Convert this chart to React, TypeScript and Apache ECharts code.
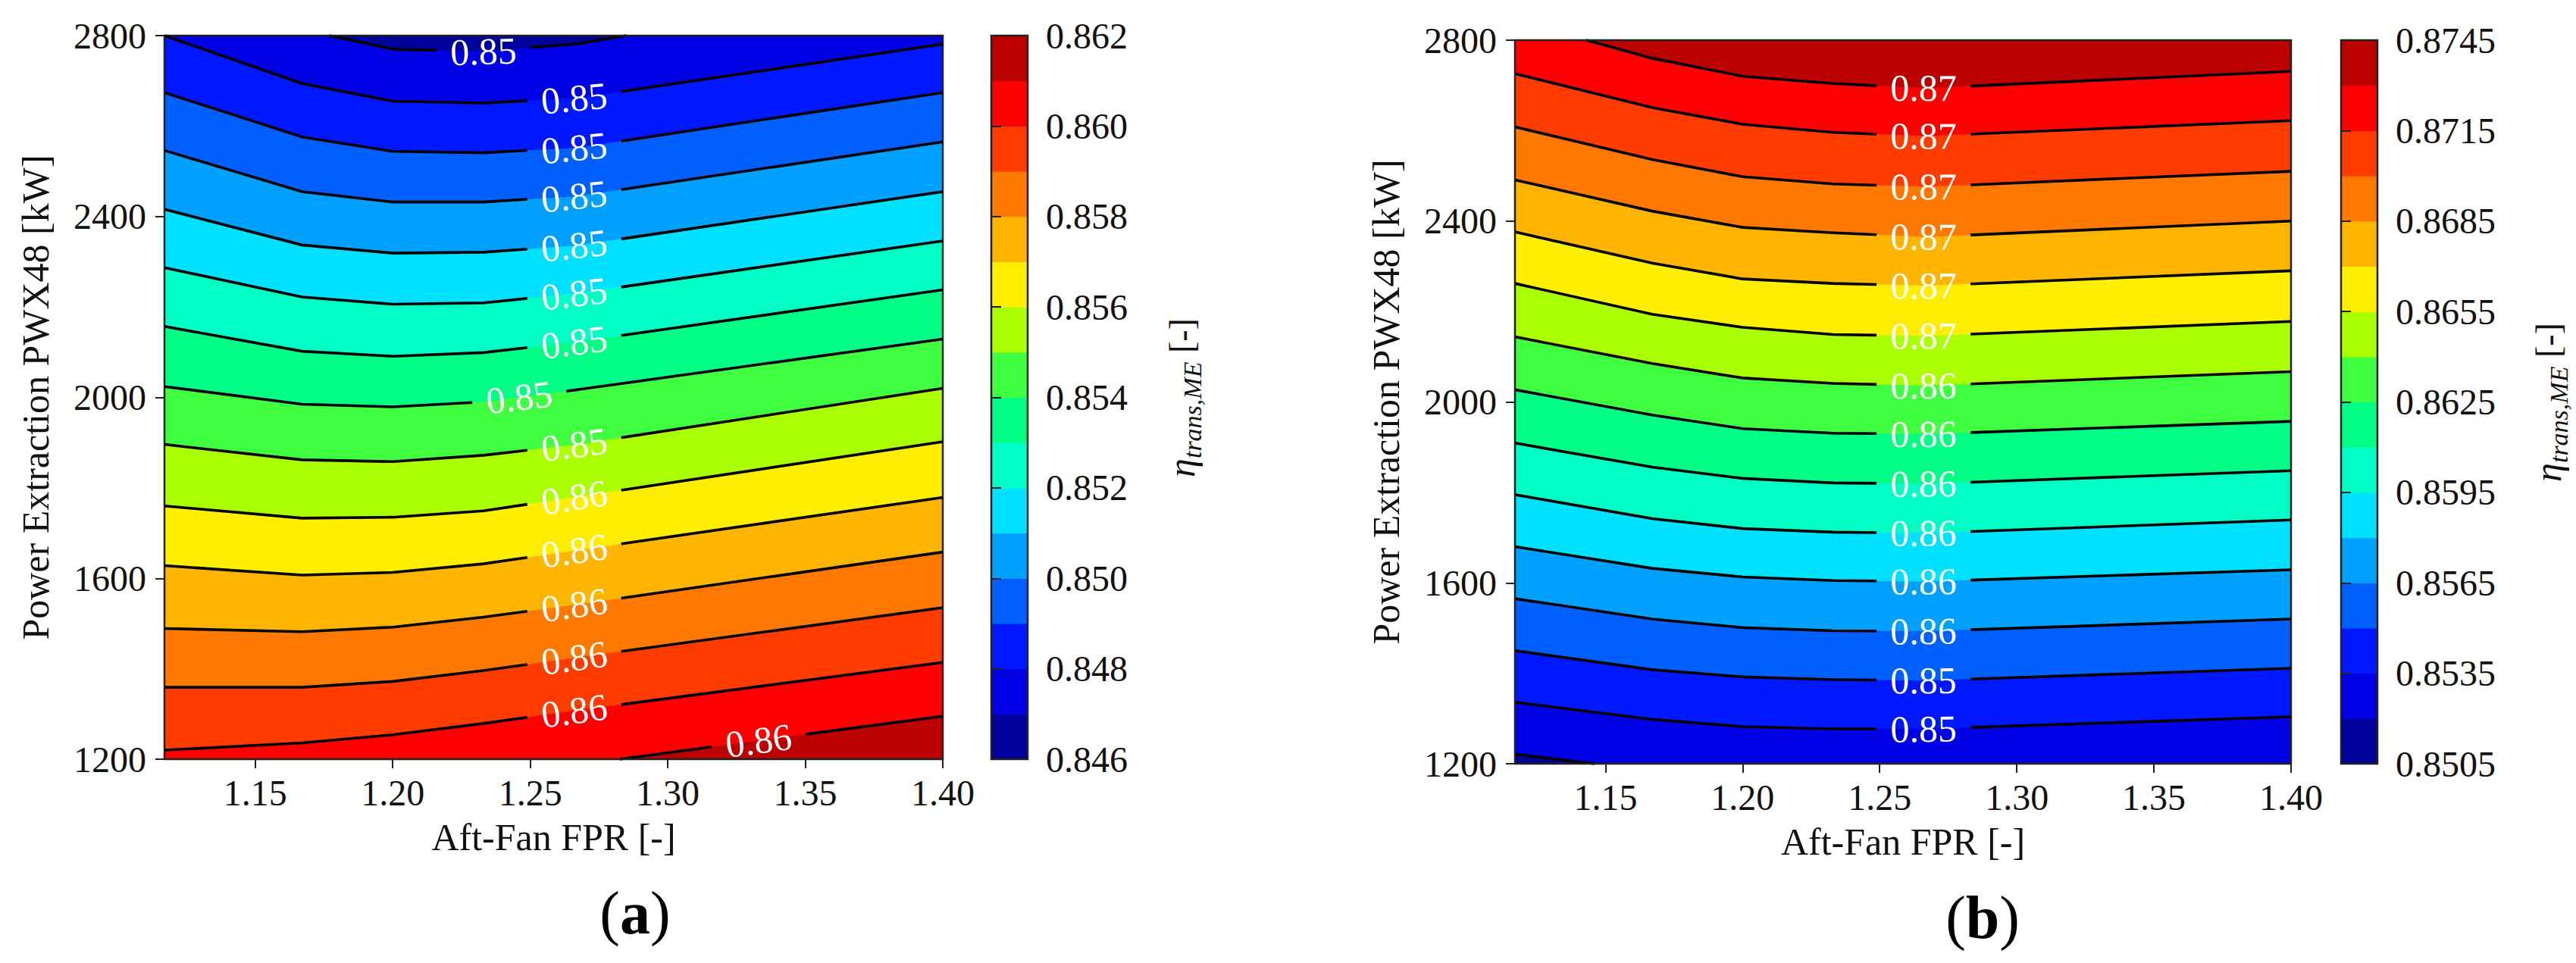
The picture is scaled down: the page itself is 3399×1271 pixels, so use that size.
import React, { useEffect, useRef } from "react";
import * as echarts from "echarts";

type Pt = [number, number];

// ---------- shared data ----------
const BAND_COLORS = [
  "#00009a", "#0000e4", "#0018ff", "#0060ff", "#00a0ff", "#00e0ff", "#00ffc4", "#00ff84",
  "#40ff40", "#aaff00", "#ffee00", "#ffb400", "#ff7800", "#ff3c00", "#ff0000", "#bb0000",
];
const X_GRID = [1.117, 1.167, 1.2, 1.233, 1.267, 1.4];
const X_TICKS = [1.15, 1.2, 1.25, 1.3, 1.35, 1.4];
const X_MIN = 1.117;
const X_MAX = 1.4;
const Y_MIN = 1200;
const Y_MAX = 2800;
const Y_STEP = 400;

const onGrid = (ys: number[]): Pt[] => X_GRID.map((x, i) => [x, ys[i]] as Pt);

// ---------- panel (a) ----------
const A_LEVELS = [0.846, 0.847, 0.848, 0.849, 0.85, 0.851, 0.852, 0.853, 0.854, 0.855, 0.856, 0.857, 0.858, 0.859, 0.86, 0.861, 0.862];
const A_CB_TICKS = ["0.846", "0.848", "0.850", "0.852", "0.854", "0.856", "0.858", "0.860", "0.862"];
// contour lines listed top -> bottom
const A_LINE_LEVELS = [0.847, 0.848, 0.849, 0.85, 0.851, 0.852, 0.853, 0.854, 0.855, 0.856, 0.857, 0.858, 0.859, 0.86, 0.861];
const A_LABELS = ["0.85", "0.85", "0.85", "0.85", "0.85", "0.85", "0.85", "0.85", "0.85", "0.86", "0.86", "0.86", "0.86", "0.86", "0.86"];
const A_LABEL_X = [1.233, 1.266, 1.266, 1.266, 1.266, 1.266, 1.266, 1.246, 1.266, 1.266, 1.266, 1.266, 1.266, 1.266, 1.333];
const A_LINES: Pt[][] = [
  [[1.117, 2800], [1.177, 2800], [1.2, 2770], [1.233, 2765], [1.267, 2782], [1.285, 2800], [1.4, 2800]],
  onGrid([2800, 2694, 2655, 2651, 2662, 2781]),
  onGrid([2674, 2576, 2544, 2541, 2552, 2674]),
  onGrid([2546, 2455, 2432, 2432, 2445, 2565]),
  onGrid([2416, 2337, 2319, 2321, 2336, 2455]),
  onGrid([2287, 2222, 2206, 2209, 2230, 2346]),
  onGrid([2157, 2102, 2091, 2099, 2123, 2238]),
  onGrid([2024, 1985, 1979, 1990, 2017, 2129]),
  onGrid([1896, 1862, 1858, 1872, 1896, 2020]),
  onGrid([1760, 1733, 1735, 1749, 1780, 1902]),
  onGrid([1628, 1607, 1613, 1632, 1662, 1779]),
  onGrid([1489, 1482, 1492, 1514, 1542, 1658]),
  onGrid([1359, 1359, 1372, 1396, 1425, 1535]),
  onGrid([1220, 1236, 1254, 1279, 1308, 1414]),
  [[1.2825, 1200], [1.35, 1255], [1.4, 1295]],
];

// ---------- panel (b) ----------
const B_LEVELS = [0.8505, 0.852, 0.8535, 0.855, 0.8565, 0.858, 0.8595, 0.861, 0.8625, 0.864, 0.8655, 0.867, 0.8685, 0.87, 0.8715, 0.873, 0.8745];
const B_CB_TICKS = ["0.8505", "0.8535", "0.8565", "0.8595", "0.8625", "0.8655", "0.8685", "0.8715", "0.8745"];
// contour lines listed top -> bottom
const B_LINE_LEVELS = [0.873, 0.8715, 0.87, 0.8685, 0.867, 0.8655, 0.864, 0.8625, 0.861, 0.8595, 0.858, 0.8565, 0.855, 0.8535, 0.852];
const B_LABELS = ["0.87", "0.87", "0.87", "0.87", "0.87", "0.87", "0.86", "0.86", "0.86", "0.86", "0.86", "0.86", "0.85", "0.85", ""];
const B_LABEL_X = [1.266, 1.266, 1.266, 1.266, 1.266, 1.266, 1.266, 1.266, 1.266, 1.266, 1.266, 1.266, 1.266, 1.266, 1.266];
const B_LINES: Pt[][] = [
  [[1.117, 2800], [1.143, 2800], [1.167, 2760], [1.2, 2720], [1.233, 2704], [1.267, 2694], [1.4, 2731]],
  onGrid([2726, 2651, 2614, 2596, 2588, 2622]),
  onGrid([2608, 2536, 2498, 2482, 2476, 2510]),
  onGrid([2491, 2422, 2386, 2374, 2365, 2400]),
  onGrid([2376, 2307, 2272, 2262, 2257, 2290]),
  onGrid([2262, 2194, 2165, 2149, 2146, 2178]),
  onGrid([2144, 2085, 2053, 2041, 2036, 2067]),
  onGrid([2027, 1971, 1941, 1931, 1929, 1957]),
  onGrid([1909, 1856, 1831, 1821, 1819, 1848]),
  onGrid([1795, 1742, 1720, 1712, 1710, 1739]),
  onGrid([1680, 1632, 1613, 1605, 1603, 1629]),
  onGrid([1565, 1520, 1501, 1494, 1493, 1520]),
  onGrid([1450, 1408, 1392, 1386, 1384, 1411]),
  onGrid([1336, 1298, 1282, 1277, 1277, 1304]),
  [[1.117, 1221], [1.146, 1200]],
];

// ---------- styling ----------
const SERIF = "Liberation Serif";
const INK = "#111";
const SPINE = "#222";
const GAP = 62;

const GRID_A = { left: 217, top: 47, width: 1027, height: 955 };
const CB_A = { left: 1308, top: 47, width: 48, height: 955 };
const GRID_B = { left: 1999, top: 53, width: 1024, height: 955 };
const CB_B = { left: 3089, top: 53, width: 48, height: 955 };

function lerpY(pts: number[][], x: number): number {
  if (x <= pts[0][0]) return pts[0][1];
  for (let j = 1; j < pts.length; j++) {
    const a = pts[j - 1], b = pts[j];
    if (x <= b[0]) {
      const t = (x - a[0]) / (b[0] - a[0] || 1);
      return a[1] + t * (b[1] - a[1]);
    }
  }
  return pts[pts.length - 1][1];
}
function lerpAt(a: number[], b: number[], x: number): number[] {
  const t = (x - a[0]) / (b[0] - a[0] || 1);
  return [x, a[1] + t * (b[1] - a[1])];
}
function cutRun(r: number[][], x0: number, x1: number): number[][][] {
  const left: number[][] = [], right: number[][] = [];
  for (let j = 0; j < r.length; j++) {
    const p = r[j];
    if (j > 0) {
      const a = r[j - 1];
      if (a[0] < x0 && p[0] > x0) left.push(lerpAt(a, p, x0));
      if (a[0] < x1 && p[0] > x1) right.push(lerpAt(a, p, x1));
    }
    if (p[0] <= x0) left.push(p);
    if (p[0] >= x1) right.push(p);
  }
  return [left, right].filter((s) => s.length > 1);
}

function panelSeries(gi: number, lines: Pt[][], lineLevels: number[], levels: number[], labels: string[], labelX: number[], higherBelow: boolean) {
  const series: any[] = [];
  lines.forEach((pts, i) => {
    let k = 0;
    let best = Infinity;
    levels.forEach((lv, j) => {
      const d = Math.abs(lv - lineLevels[i]);
      if (d < best) { best = d; k = j; }
    });
    const band = higherBelow ? k : k - 1;
    series.push({
      type: "line",
      xAxisIndex: gi,
      yAxisIndex: gi,
      data: pts,
      symbol: "none",
      silent: true,
      clip: true,
      z: 2,
      lineStyle: { width: 0, opacity: 0 },
      areaStyle: { color: BAND_COLORS[band], opacity: 1, origin: "start" },
    });
  });
  series.push({
    type: "custom",
    xAxisIndex: gi,
    yAxisIndex: gi,
    silent: true,
    clip: false,
    z: 6,
    data: lines.map((_, i) => [labelX[i], lineLevels[i]]),
    renderItem: (params: any, api: any) => {
      const i = params.dataIndex;
      const pts = lines[i];
      const P = pts.map((p) => api.coord(p));
      let runs: number[][][] = [];
      let cur: number[][] = [P[0]];
      for (let j = 1; j < pts.length; j++) {
        const onB = pts[j - 1][1] === pts[j][1] && (pts[j][1] === Y_MIN || pts[j][1] === Y_MAX);
        if (onB) {
          if (cur.length > 1) runs.push(cur);
          cur = [P[j]];
        } else cur.push(P[j]);
      }
      if (cur.length > 1) runs.push(cur);
      const children: any[] = [];
      const lbl = labels[i];
      let textEl: any = null;
      if (lbl) {
        const xl = labelX[i];
        const c = api.coord([xl, lerpY(pts, xl)]);
        const x0 = c[0] - GAP, x1 = c[0] + GAP;
        const y0 = lerpY(P, x0), y1 = lerpY(P, x1);
        runs = runs.flatMap((r) => cutRun(r, x0, x1));
        const ang = Math.atan2(y0 - y1, x1 - x0);
        textEl = {
          type: "text",
          x: c[0],
          y: c[1],
          rotation: ang,
          style: { text: lbl, fill: "#fff", fontSize: 50, fontFamily: SERIF, align: "center", verticalAlign: "middle" },
        };
      }
      runs.forEach((r) =>
        children.push({ type: "polyline", shape: { points: r }, style: { stroke: "#000", lineWidth: 3.6, fill: null } })
      );
      if (textEl) children.push(textEl);
      if (i === 0) {
        const tl = api.coord([X_MIN, Y_MAX]);
        const br = api.coord([X_MAX, Y_MIN]);
        children.push({
          type: "rect",
          shape: { x: tl[0], y: tl[1], width: br[0] - tl[0], height: br[1] - tl[1] },
          style: { stroke: SPINE, lineWidth: 2.5, fill: null },
        });
      }
      return { type: "group", children };
    },
  });
  return series;
}

function colorbarSeries(ci: number) {
  return {
    type: "custom",
    xAxisIndex: ci,
    yAxisIndex: ci,
    silent: true,
    clip: false,
    z: 3,
    data: BAND_COLORS.map((_, i) => [0.5, i + 0.5]),
    renderItem: (params: any, api: any) => {
      const i = params.dataIndex;
      const p0 = api.coord([0, i]);
      const p1 = api.coord([1, i + 1]);
      const children: any[] = [
        {
          type: "rect",
          shape: { x: p0[0], y: p1[1], width: p1[0] - p0[0], height: p0[1] - p1[1] + 0.6 },
          style: { fill: BAND_COLORS[i] },
        },
      ];
      if (i === BAND_COLORS.length - 1) {
        const a = api.coord([0, 0]);
        const b = api.coord([1, BAND_COLORS.length]);
        children.push({
          type: "rect",
          shape: { x: a[0], y: b[1], width: b[0] - a[0], height: a[1] - b[1] },
          style: { stroke: SPINE, lineWidth: 2.5, fill: null },
        });
      }
      return { type: "group", children };
    },
  };
}

const mainX = (gi: number) => ({
  type: "value",
  gridIndex: gi,
  min: X_MIN,
  max: X_MAX,
  axisLine: { show: true, onZero: false, lineStyle: { color: SPINE, width: 2 } },
  axisTick: { show: true, length: 12, customValues: X_TICKS, lineStyle: { color: SPINE, width: 2 } },
  axisLabel: {
    customValues: X_TICKS,
    formatter: (v: number) => v.toFixed(2),
    fontSize: 48,
    fontFamily: SERIF,
    color: INK,
    margin: 20,
  },
  splitLine: { show: false },
  name: "Aft-Fan FPR [-]",
  nameLocation: "middle",
  nameGap: 78,
  nameMoveOverlap: false,
  nameTextStyle: { fontSize: 50, fontFamily: SERIF, color: INK },
  z: 10,
});
const mainY = (gi: number) => ({
  type: "value",
  gridIndex: gi,
  min: Y_MIN,
  max: Y_MAX,
  interval: Y_STEP,
  axisLine: { show: true, onZero: false, lineStyle: { color: SPINE, width: 2 } },
  axisTick: { show: true, length: 12, lineStyle: { color: SPINE, width: 2 } },
  axisLabel: { formatter: (v: number) => String(v), fontSize: 48, fontFamily: SERIF, color: INK, margin: 24 },
  splitLine: { show: false },
  name: "Power Extraction PWX48 [kW]",
  nameLocation: "middle",
  nameGap: 145,
  nameRotate: 90,
  nameMoveOverlap: false,
  nameTextStyle: { fontSize: 50, fontFamily: SERIF, color: INK },
  z: 10,
});
const cbX = (gi: number) => ({ type: "value", gridIndex: gi, min: 0, max: 1, show: false });
const cbY = (gi: number, ticks: string[]) => ({
  type: "value",
  gridIndex: gi,
  position: "right",
  min: 0,
  max: 16,
  interval: 2,
  axisLine: { show: false },
  axisTick: { show: true, length: 13, lineStyle: { color: SPINE, width: 2 } },
  axisLabel: {
    formatter: (v: number) => ticks[Math.round(v / 2)],
    fontSize: 48,
    fontFamily: SERIF,
    color: INK,
    margin: 24,
  },
  splitLine: { show: false },
  z: 10,
});

const etaLabel = (x: number, y: number) => ({
  type: "text",
  x,
  y,
  rotation: Math.PI / 2,
  style: {
    text: "{e|η}{s|trans,ME}{b| [-]}",
    fill: INK,
    align: "center",
    verticalAlign: "middle",
    rich: {
      e: { fontSize: 50, fontFamily: SERIF, fontStyle: "italic", lineHeight: 62, verticalAlign: "middle", fill: INK },
      s: { fontSize: 34, fontFamily: SERIF, fontStyle: "italic", lineHeight: 34, verticalAlign: "bottom", fill: INK },
      b: { fontSize: 46, fontFamily: SERIF, lineHeight: 62, verticalAlign: "middle", fill: INK },
    },
  },
});
const panelTag = (x: number, y: number, letter: string) => ({
  type: "text",
  x,
  y,
  style: {
    text: `{p|(}{l|${letter}}{p|)}`,
    fill: "#000",
    align: "center",
    verticalAlign: "middle",
    rich: {
      p: { fontSize: 80, fontFamily: SERIF, fill: "#000" },
      l: { fontSize: 80, fontFamily: SERIF, fontWeight: "bold", fill: "#000" },
    },
  },
});

function buildOption() {
  const grid = [GRID_A, CB_A, GRID_B, CB_B].map((g, i) => ({
    ...g,
    show: i === 0 || i === 2,
    borderWidth: 0,
    backgroundColor: i === 0 ? BAND_COLORS[0] : i === 2 ? BAND_COLORS[15] : "transparent",
    outerBoundsMode: "none",
    containLabel: false,
  }));
  return {
    animation: false,
    backgroundColor: "#fff",
    textStyle: { fontFamily: SERIF },
    grid,
    xAxis: [mainX(0), cbX(1), mainX(2), cbX(3)],
    yAxis: [mainY(0), cbY(1, A_CB_TICKS), mainY(2), cbY(3, B_CB_TICKS)],
    series: [
      ...panelSeries(0, A_LINES, A_LINE_LEVELS, A_LEVELS, A_LABELS, A_LABEL_X, true),
      colorbarSeries(1),
      ...panelSeries(2, B_LINES, B_LINE_LEVELS, B_LEVELS, B_LABELS, B_LABEL_X, false),
      colorbarSeries(3),
    ],
    graphic: [etaLabel(1559, 525), etaLabel(3362, 531), panelTag(838, 1205, "a"), panelTag(2616, 1211, "b")],
  };
}

export default function App() {
  const ref = useRef<HTMLDivElement>(null);
  useEffect(() => {
    if (!ref.current) return;
    const chart = echarts.init(ref.current, null, { renderer: "svg" });
    chart.setOption(buildOption() as any);
    return () => chart.dispose();
  }, []);
  return (
    <div
      ref={ref}
      style={{ position: "fixed", left: 0, top: 0, width: 3399, height: 1271, background: "#fff" }}
    />
  );
}
